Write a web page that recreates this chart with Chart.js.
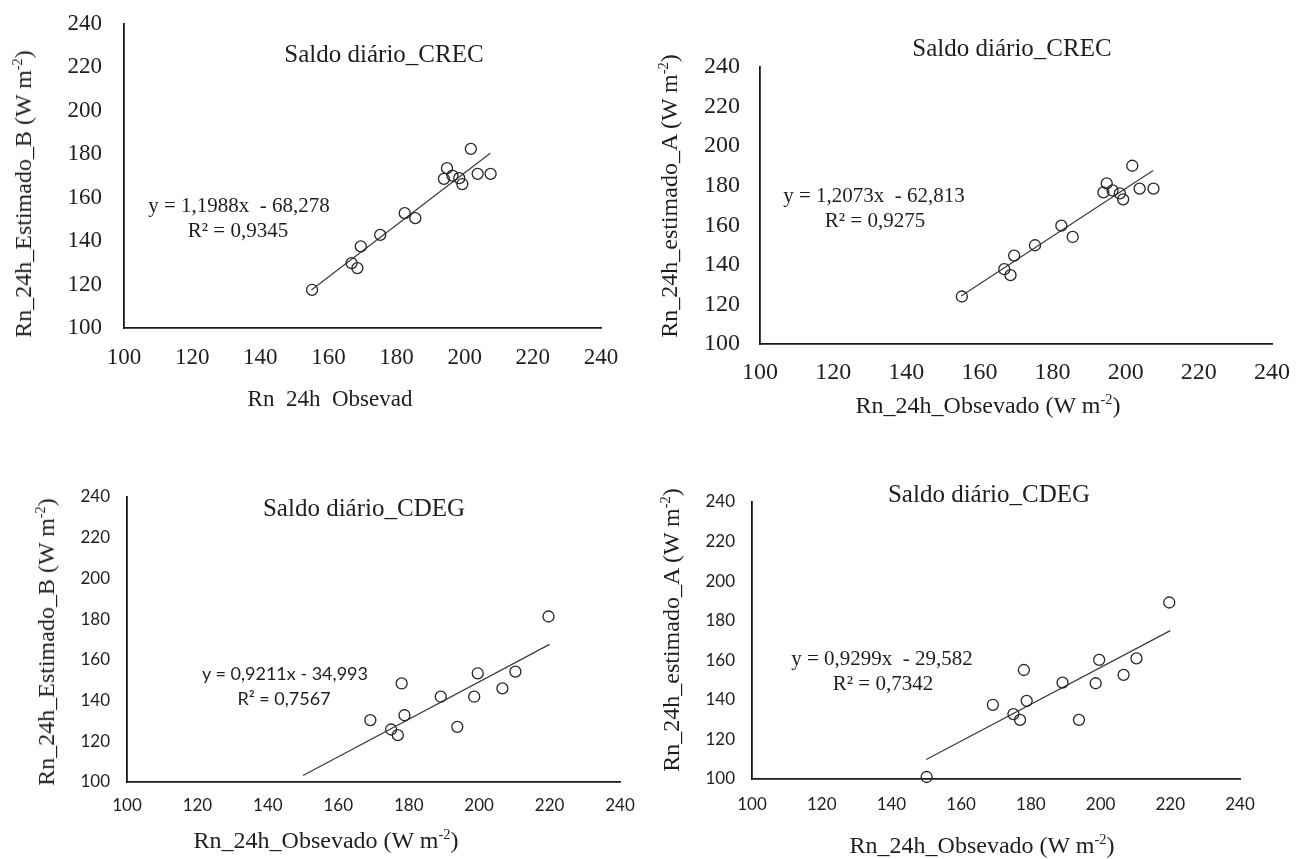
<!DOCTYPE html>
<html>
<head>
<meta charset="utf-8">
<title>Saldo diário</title>
<script src="https://cdn.jsdelivr.net/npm/chart.js@4.4.0/dist/chart.umd.min.js"></script>
<style>
    body { margin: 0; background: #fff; }
    #page { position: relative; width: 1310px; height: 859px; overflow: hidden; }
    canvas { position: absolute; }
    .lbl { position: absolute; transform: translate(-50%, -50%); white-space: pre; color: #1e1e1e; line-height: 1; }
    .rot { transform: translate(-50%, -50%) rotate(-90deg); }
    .serif { font-family: 'Liberation Serif', 'Times New Roman', serif; }
    .sans { font-family: Lato, 'Liberation Sans', sans-serif; }
    sup { font-size: 0.6em; vertical-align: 0.6em; line-height: 0; }
</style>
</head>
<body>
<div id="page">
    <canvas id="c1" width="650" height="430" style="left:0;top:0"></canvas>
    <canvas id="c2" width="660" height="430" style="left:650px;top:0"></canvas>
    <canvas id="c3" width="650" height="429" style="left:0;top:430px"></canvas>
    <canvas id="c4" width="660" height="429" style="left:650px;top:430px"></canvas>

    <!-- Saldo diário_CREC (B) -->
    <div class="lbl serif" style="left:384px;top:53px;font-size:25px">Saldo diário_CREC</div>
    <div class="lbl serif" style="left:239px;top:205px;font-size:21px">y = 1,1988x  - 68,278</div>
    <div class="lbl serif" style="left:238px;top:230px;font-size:21px">R² = 0,9345</div>
    <div class="lbl serif rot" style="left:23px;top:194px;font-size:24px">Rn_24h_Estimado_B (W m<sup>-2</sup>)</div>
    <div class="lbl serif" style="left:330px;top:398px;font-size:23px">Rn  24h  Obsevad</div>

    <!-- Saldo diário_CREC (A) -->
    <div class="lbl serif" style="left:1012px;top:47px;font-size:25px">Saldo diário_CREC</div>
    <div class="lbl serif" style="left:874px;top:195px;font-size:21px">y = 1,2073x  - 62,813</div>
    <div class="lbl serif" style="left:875px;top:220px;font-size:21px">R² = 0,9275</div>
    <div class="lbl serif rot" style="left:669px;top:196px;font-size:24px">Rn_24h_estimado_A (W m<sup>-2</sup>)</div>
    <div class="lbl serif" style="left:988px;top:405px;font-size:24px">Rn_24h_Obsevado (W m<sup>-2</sup>)</div>

    <!-- Saldo diário_CDEG (B) -->
    <div class="lbl serif" style="left:364px;top:507px;font-size:25px">Saldo diário_CDEG</div>
    <div class="lbl sans" style="left:285px;top:673px;font-size:18px">y = 0,9211x - 34,993</div>
    <div class="lbl sans" style="left:284px;top:698px;font-size:18px">R² = 0,7567</div>
    <div class="lbl serif rot" style="left:46px;top:642px;font-size:24px">Rn_24h_Estimado_B (W m<sup>-2</sup>)</div>
    <div class="lbl serif" style="left:326px;top:840px;font-size:24px">Rn_24h_Obsevado (W m<sup>-2</sup>)</div>

    <!-- Saldo diário_CDEG (A) -->
    <div class="lbl serif" style="left:989px;top:493px;font-size:25px">Saldo diário_CDEG</div>
    <div class="lbl serif" style="left:882px;top:658px;font-size:21px">y = 0,9299x  - 29,582</div>
    <div class="lbl serif" style="left:883px;top:683px;font-size:21px">R² = 0,7342</div>
    <div class="lbl serif rot" style="left:671px;top:630px;font-size:24px">Rn_24h_estimado_A (W m<sup>-2</sup>)</div>
    <div class="lbl serif" style="left:982px;top:845px;font-size:24px">Rn_24h_Obsevado (W m<sup>-2</sup>)</div>
</div>

<script>
// Axis ticks (same on both axes of every panel)
const axisTicks = [100, 120, 140, 160, 180, 200, 220, 240];

// CREC - observed daily net radiation
const obsCrec = [155.2, 166.8, 168.5, 169.5, 175.2, 182.4, 185.5, 193.9, 194.8, 196.4, 198.4, 199.3, 201.8, 203.8, 207.6];
const estCrecB = [117.6, 129.9, 127.6, 137.6, 142.9, 152.9, 150.6, 168.7, 173.6, 170.2, 169.0, 166.3, 182.5, 171.0, 171.0];
const estCrecA = [124.0, 137.8, 134.8, 144.7, 149.9, 159.8, 154.1, 176.6, 181.2, 177.6, 176.1, 173.1, 190.1, 178.5, 178.5];

// CDEG - observed daily net radiation
const obsCdeg = [150.1, 169.1, 175.0, 176.9, 178.0, 178.8, 189.1, 193.8, 198.6, 199.6, 206.6, 210.3, 219.7];
const estCdegB = [null, 130.4, 125.8, 123.0, 148.4, 132.8, 141.9, 127.1, 141.9, 153.4, 146.0, 154.2, 181.3];
const estCdegA = [101.0, 137.5, 132.8, 129.9, 155.1, 139.5, 148.7, 129.9, 148.4, 160.2, 152.6, 161.0, 189.2];

// Trendline ends
const trendCrecX = [155, 207.5];
const trendCrecB = [117.5, 180.5];
const trendCrecA = [124.3, 187.7];
const trendCdegX = [150, 220];
const trendCdegB = [103.2, 167.6];
const trendCdegA = [109.9, 175.0];

const SERIF = "'Liberation Serif', 'Times New Roman', serif";
const SANS = "Lato, 'Liberation Sans', sans-serif";
const INK = '#1e1e1e';

// Build one scatter panel
function scatterPanel(id, obs, est, trendX, trendY, g) {
    const points = obs.map((x, i) => ({ x: x, y: est[i] }));
    const trend = trendX.map((x, i) => ({ x: x, y: trendY[i] }));
    const tickFont = { family: g.font, size: g.size };

    // gap between axis and labels comes from the (hidden) tick length,
    // so it does not get added to the scale's edge padding
    const axis = (gap, fit) => ({
        type: 'linear',
        min: axisTicks[0],
        max: axisTicks[axisTicks.length - 1],
        grid: { display: false, drawTicks: true, tickLength: gap },
        border: { display: true, color: '#1a1a1a', width: 1.8 },
        ticks: { stepSize: axisTicks[1] - axisTicks[0], padding: 0, color: INK, font: tickFont, maxRotation: 0, autoSkip: false },
        afterFit: fit
    });

    return new Chart(document.getElementById(id), {
        type: 'scatter',
        data: {
            datasets: [{
                data: points,
                pointRadius: 5.5,
                pointBorderWidth: 1.3,
                pointBorderColor: '#262626',
                pointBackgroundColor: 'rgba(255,255,255,0)',
                clip: false
            }, {
                type: 'line',
                data: trend,
                borderColor: '#3a3a3a',
                borderWidth: 1.2,
                pointRadius: 0,
                fill: false
            }]
        },
        options: {
            responsive: false,
            animation: false,
            layout: { padding: { left: 0, top: g.top, right: g.right, bottom: 0 } },
            plugins: { legend: { display: false }, tooltip: { enabled: false } },
            scales: {
                x: axis(g.xPad, s => { s.height = g.xH; }),
                y: axis(g.yPad, s => { s.width = g.yW; })
            }
        }
    });
}

window.addEventListener('DOMContentLoaded', () => {
    scatterPanel('c1', obsCrec, estCrecB, trendCrecX, trendCrecB,
        { top: 24, right: 49, xH: 102, yW: 124, xPad: 16, yPad: 22, font: SERIF, size: 23 });
    scatterPanel('c2', obsCrec, estCrecA, trendCrecX, trendCrecA,
        { top: 67, right: 38, xH: 86, yW: 110, xPad: 14, yPad: 20, font: SERIF, size: 24 });
    scatterPanel('c3', obsCdeg, estCdegB, trendCdegX, trendCdegB,
        { top: 67, right: 30, xH: 77, yW: 127, xPad: 13, yPad: 17, font: SANS, size: 17 });
    scatterPanel('c4', obsCdeg, estCdegA, trendCdegX, trendCdegA,
        { top: 72, right: 70, xH: 80, yW: 102, xPad: 15, yPad: 17, font: SANS, size: 17 });
});
</script>
</body>
</html>
